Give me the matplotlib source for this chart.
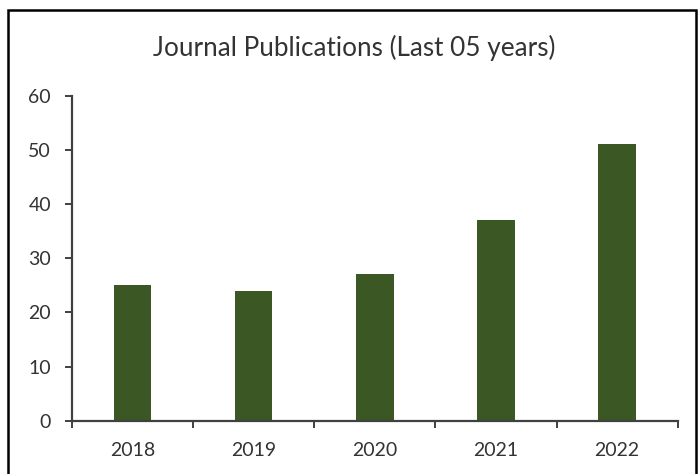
import matplotlib
matplotlib.use("Agg")
import matplotlib.pyplot as plt
from matplotlib.patches import Rectangle
import numpy as np

years = ["2018", "2019", "2020", "2021", "2022"]
publications = [25, 24, 27, 37, 51]
yticks = [0, 10, 20, 30, 40, 50, 60]

plt.rcParams['font.family'] = ['Lato', 'DejaVu Sans']

fig = plt.figure(figsize=(6.98, 4.74), dpi=100)
ax = fig.add_axes([0.103, 0.1125, 0.868, 0.6855])

x = np.arange(len(years))
ax.bar(x, publications, width=0.31, color="#3a5724", zorder=2)

ax.set_xlim(-0.5, len(years) - 0.5)
ax.set_ylim(0, 60)
ax.set_yticks(yticks)
ax.set_yticklabels([str(v) for v in yticks], fontsize=14, color="#333333")

ax.set_xticks(np.arange(-0.5, len(years), 1.0))
ax.set_xticklabels([])
ax.set_xticks(x, minor=True)
ax.set_xticklabels(years, minor=True, fontsize=14, color="#333333")
ax.tick_params(axis='x', which='minor', length=0, pad=15.5)
ax.tick_params(axis='x', which='major', length=5, width=1.4, color="#404040", direction='out')
ax.tick_params(axis='y', length=5, width=1.4, color="#404040", direction='out', pad=10)

for s in ["top", "right"]:
    ax.spines[s].set_visible(False)
for s in ["left", "bottom"]:
    ax.spines[s].set_color("#404040")
    ax.spines[s].set_linewidth(1.6)

fig.text(0.508, 0.898, "Journal Publications (Last 05 years)", ha="center", va="center",
         fontsize=18.8, color="#333333")

border = Rectangle((0.011, -0.05), 0.986, 1.029, transform=fig.transFigure,
                   fill=False, edgecolor="black", linewidth=1.8)
fig.patches.append(border)

fig.savefig("out.png", dpi=100)
